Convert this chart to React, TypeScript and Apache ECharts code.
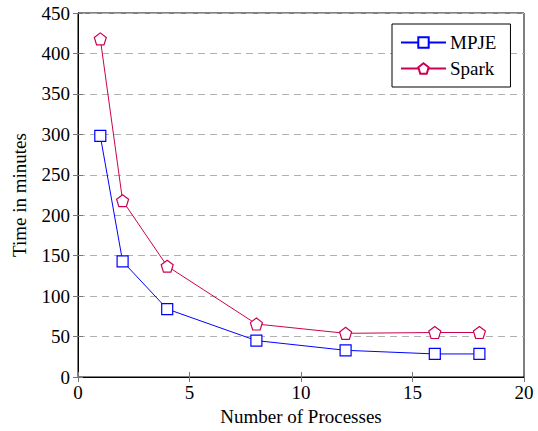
import React, { useEffect, useRef } from "react";
import * as echarts from "echarts";

const processes = [1, 2, 4, 8, 12, 16, 18];
const mpjeTimes = [298, 143, 84, 45, 33, 28.5, 28.5];
const sparkTimes = [418, 218, 137, 65.5, 54, 55, 55];
const seriesNames = ["MPJE", "Spark"];

const BLUE = "#0000ff";
const RED = "#cc0050";
const FONT = "'Liberation Serif', 'Times New Roman', serif";
const PENTAGON =
  "path://M0,-1 L0.951,-0.309 L0.588,0.809 L-0.588,0.809 L-0.951,-0.309 Z";

export default function App() {
  const ref = useRef<HTMLDivElement>(null);
  useEffect(() => {
    if (!ref.current) return;
    const chart = echarts.init(ref.current, null, { renderer: "svg" });
    const tickStyle = { show: true, inside: true, length: 5, lineStyle: { color: "#777" } };
    const label = { color: "#000", fontFamily: FONT, fontSize: 19 };
    chart.setOption({
      animation: false,
      backgroundColor: "#fff",
      grid: {
        left: 78,
        right: 14,
        top: 13,
        bottom: 50,
        show: true,
        borderColor: "#000",
        borderWidth: 1,
      },
      legend: {
        left: 392,
        top: 24,
        orient: "vertical",
        padding: [9, 14, 9, 8],
        itemGap: 7,
        itemWidth: 45,
        itemHeight: 13,
        backgroundColor: "#fff",
        borderColor: "#000",
        borderWidth: 1,
        borderRadius: 0,
        textStyle: { color: "#000", fontFamily: FONT, fontSize: 19, padding: [0, 0, 0, -1] },
        data: seriesNames,
      },
      xAxis: [
        {
          type: "value",
          min: 0,
          max: 20,
          interval: 5,
          position: "bottom",
          name: "Number of Processes",
          nameLocation: "middle",
          nameGap: 30,
          nameTextStyle: { color: "#000", fontFamily: FONT, fontSize: 19 },
          axisLine: { show: true, lineStyle: { color: "#000" } },
          axisTick: tickStyle,
          axisLabel: { ...label, margin: 6 },
          splitLine: { show: false },
        },
        {
          type: "value",
          min: 0,
          max: 20,
          interval: 5,
          position: "top",
          axisLine: { show: true, lineStyle: { color: "#000" } },
          axisTick: tickStyle,
          axisLabel: { show: false },
          splitLine: { show: false },
        },
      ],
      yAxis: [
        {
          type: "value",
          min: 0,
          max: 450,
          interval: 50,
          position: "left",
          name: "Time in minutes",
          nameLocation: "middle",
          nameGap: 49,
          nameTextStyle: { color: "#000", fontFamily: FONT, fontSize: 19 },
          axisLine: { show: true, lineStyle: { color: "#000" } },
          axisTick: tickStyle,
          axisLabel: { ...label, margin: 8 },
          splitLine: {
            show: true,
            lineStyle: { color: "#b0b0b0", type: [7, 5], width: 1 },
          },
        },
        {
          type: "value",
          min: 0,
          max: 450,
          interval: 50,
          position: "right",
          axisLine: { show: true, lineStyle: { color: "#000" } },
          axisTick: tickStyle,
          axisLabel: { show: false },
          splitLine: { show: false },
        },
      ],
      series: [
        {
          name: seriesNames[0],
          type: "line",
          data: processes.map((p, i) => [p, mpjeTimes[i]]),
          symbol: "rect",
          symbolSize: 11,
          lineStyle: { color: BLUE, width: 1 },
          itemStyle: { color: "#fff", borderColor: BLUE, borderWidth: 1.2 },
          z: 3,
        },
        {
          name: seriesNames[1],
          type: "line",
          data: processes.map((p, i) => [p, sparkTimes[i]]),
          symbol: PENTAGON,
          symbolSize: 12,
          lineStyle: { color: RED, width: 1 },
          itemStyle: { color: "#fff", borderColor: RED, borderWidth: 1.2 },
          z: 3,
        },
      ],
    });
    return () => chart.dispose();
  }, []);
  return (
    <div
      ref={ref}
      style={{ position: "absolute", left: 0, top: 0, width: 538, height: 431 }}
    />
  );
}
